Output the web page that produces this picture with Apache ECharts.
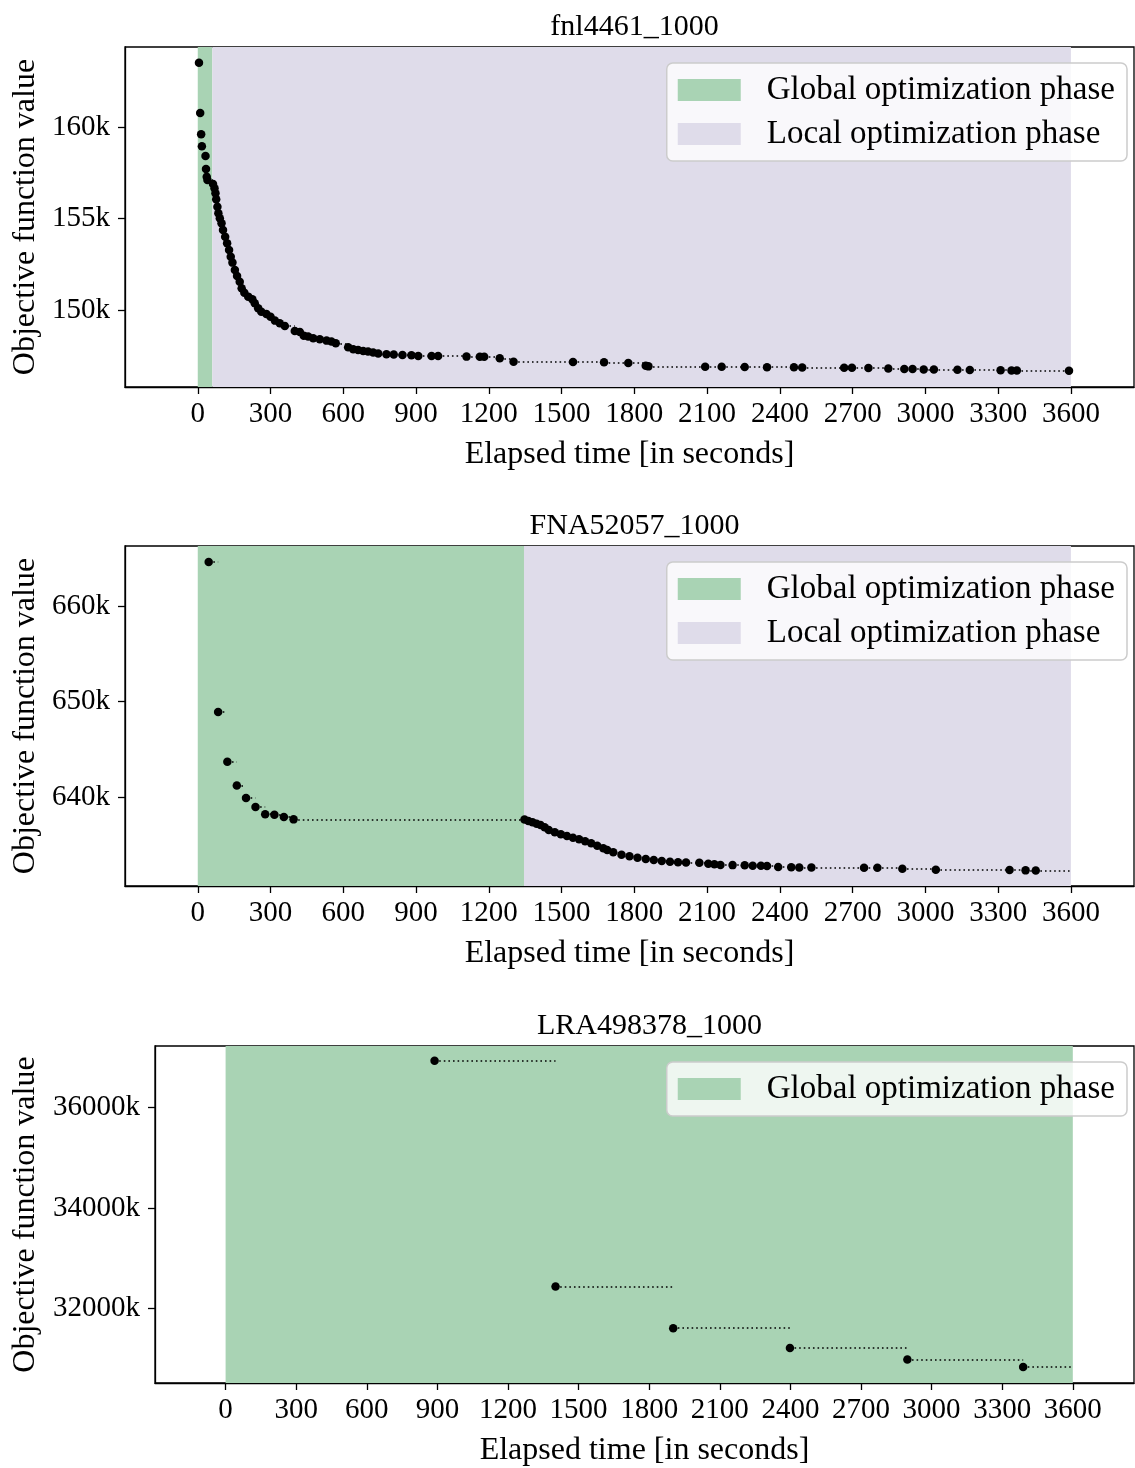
<!DOCTYPE html>
<html>
<head>
<meta charset="utf-8">
<script src="https://cdn.jsdelivr.net/npm/echarts@6/dist/echarts.min.js"></script>
<style>
  html, body { margin: 0; padding: 0; background: #fff; }
  #chart { width: 1135px; height: 1468px; }
</style>
</head>
<body>
<div id="chart"></div>
<script>
// ---- run: fnl4461_1000 ----
const fnlTime = [5, 10, 14, 17, 32, 34, 37, 40, 63, 69, 73, 76, 81, 85, 91, 98, 104, 113, 121, 129, 136, 143, 153, 162, 173, 181, 192, 208, 225, 235, 249, 262, 283, 300, 318, 338, 359, 400, 421, 437, 455, 476, 503, 531, 551, 569, 620, 641, 661, 682, 702, 723, 744, 778, 808, 844, 881, 909, 964, 991, 1108, 1163, 1181, 1245, 1302, 1547, 1675, 1775, 1847, 1858, 2092, 2160, 2255, 2347, 2458, 2492, 2665, 2697, 2765, 2847, 2913, 2947, 2993, 3035, 3132, 3183, 3310, 3355, 3377, 3592];
const fnlValue = [163515, 160765, 159600, 158944, 158416, 157705, 157287, 157105, 156886, 156650, 156376, 156048, 155648, 155284, 155010, 154737, 154373, 154009, 153645, 153280, 152916, 152589, 152188, 151860, 151550, 151186, 150949, 150731, 150585, 150367, 150094, 149911, 149784, 149638, 149420, 149274, 149128, 148855, 148801, 148600, 148546, 148455, 148400, 148327, 148273, 148182, 147963, 147854, 147818, 147763, 147727, 147672, 147617, 147581, 147575, 147544, 147526, 147490, 147488, 147486, 147453, 147450, 147448, 147362, 147170, 147160, 147140, 147100, 146960, 146920, 146900, 146895, 146880, 146875, 146870, 146860, 146850, 146840, 146830, 146810, 146780, 146770, 146750, 146745, 146740, 146720, 146710, 146700, 146690, 146685];
const fnlGlobalEnd = 60;

// ---- run: FNA52057_1000 ----
const fnaTime = [45, 84, 122, 161, 199, 238, 278, 316, 355, 395, 1347, 1363, 1380, 1397, 1413, 1430, 1447, 1472, 1497, 1522, 1547, 1572, 1597, 1622, 1647, 1672, 1688, 1713, 1747, 1780, 1813, 1847, 1880, 1913, 1947, 1980, 2013, 2068, 2105, 2130, 2155, 2205, 2255, 2288, 2322, 2347, 2393, 2447, 2480, 2530, 2747, 2802, 2905, 3043, 3347, 3413, 3455];
const fnaValue = [664600, 648900, 643700, 641200, 639900, 638950, 638200, 638150, 637900, 637660, 637640, 637489, 637349, 637210, 637068, 636824, 636545, 636300, 636091, 635917, 635742, 635568, 635358, 635149, 634905, 634626, 634451, 634207, 633963, 633789, 633649, 633509, 633404, 633300, 633230, 633160, 633150, 633125, 633020, 632950, 632880, 632870, 632845, 632810, 632800, 632775, 632670, 632640, 632630, 632620, 632600, 632590, 632490, 632390, 632355, 632320, 632315];
const fnaGlobalEnd = 1345;

// ---- run: LRA498378_1000 ----
const lraTime = [888, 1402, 1902, 2398, 2897, 3389];
const lraValue = [36926000, 32440000, 31613000, 31219000, 30990000, 30838000];
const lraGlobalEnd = 3600;

const timeLimit = 3600;
const timeTicks = [0, 300, 600, 900, 1200, 1500, 1800, 2100, 2400, 2700, 3000, 3300, 3600];
const fnlTicks = [150000, 155000, 160000];
const fnaTicks = [640000, 650000, 660000];
const lraTicks = [32000000, 34000000, 36000000];

const titles = ['fnl4461_1000', 'FNA52057_1000', 'LRA498378_1000'];
const GLOBAL = 'Global optimization phase';
const LOCAL = 'Local optimization phase';

const FONT = '"Liberation Serif", "DejaVu Serif", serif';
const GREEN = '#a9d3b4';
const LAVENDER = '#dfdcea';

const panels = [
  { grid: { left: 125, top: 47, width: 1009, height: 340 }, t: fnlTime, v: fnlValue, gEnd: fnlGlobalEnd,
    yMin: 145793, yMax: 164371, yTicks: fnlTicks, local: true, yNameGap: 83 },
  { grid: { left: 125, top: 546, width: 1009, height: 340 }, t: fnaTime, v: fnaValue, gEnd: fnaGlobalEnd,
    yMin: 630684, yMax: 666283, yTicks: fnaTicks, local: true, yNameGap: 83 },
  { grid: { left: 155, top: 1046, width: 979, height: 340 }, t: lraTime, v: lraValue, gEnd: lraGlobalEnd,
    yMin: 30522300, yMax: 37221600, yTicks: lraTicks, local: false, yNameGap: 113 }
];

const option = {
  backgroundColor: '#fff',
  animation: false,
  textStyle: { fontFamily: FONT },
  title: [], grid: [], xAxis: [], yAxis: [], series: [], legend: []
};

panels.forEach((p, i) => {
  option.grid.push(Object.assign({ show: true, borderColor: '#000', borderWidth: 1.3, backgroundColor: 'transparent' }, p.grid));
  option.title.push({
    text: titles[i],
    left: p.grid.left + p.grid.width / 2,
    textAlign: 'center',
    top: p.grid.top - 40,
    textStyle: { fontFamily: FONT, fontSize: 30, fontWeight: 'normal', color: '#000' }
  });
  option.xAxis.push({
    type: 'value', gridIndex: i, min: -300, max: 3860,
    name: 'Elapsed time [in seconds]', nameLocation: 'middle', nameGap: 52,
    nameTextStyle: { fontFamily: FONT, fontSize: 32, color: '#000' },
    axisLine: { show: true, onZero: false, lineStyle: { color: '#000', width: 1.3 } },
    axisTick: { show: true, customValues: timeTicks, length: 7, lineStyle: { color: '#000', width: 1.3 } },
    axisLabel: { customValues: timeTicks, fontFamily: FONT, fontSize: 29, color: '#000', margin: 13,
      formatter: v => String(v) },
    splitLine: { show: false }
  });
  option.yAxis.push({
    type: 'value', gridIndex: i, min: p.yMin, max: p.yMax,
    name: 'Objective function value', nameLocation: 'middle', nameGap: p.yNameGap, nameRotate: 90,
    nameTextStyle: { fontFamily: FONT, fontSize: 32, color: '#000' },
    axisLine: { show: true, onZero: false, lineStyle: { color: '#000', width: 1.3 } },
    axisTick: { show: true, customValues: p.yTicks, length: 7, lineStyle: { color: '#000', width: 1.3 } },
    axisLabel: { customValues: p.yTicks, fontFamily: FONT, fontSize: 29, color: '#000', margin: 15,
      formatter: v => (v / 1000) + 'k' },
    splitLine: { show: false }
  });

  // phase bands
  option.series.push({
    name: GLOBAL, type: 'line', xAxisIndex: i, yAxisIndex: i, data: [], z: 1,
    itemStyle: { color: GREEN }, lineStyle: { color: GREEN },
    markArea: { silent: true, itemStyle: { color: GREEN, opacity: 1 },
      data: [[{ xAxis: 0 }, { xAxis: p.gEnd }]] }
  });
  if (p.local) {
    option.series.push({
      name: LOCAL, type: 'line', xAxisIndex: i, yAxisIndex: i, data: [], z: 1,
      itemStyle: { color: LAVENDER }, lineStyle: { color: LAVENDER },
      markArea: { silent: true, itemStyle: { color: LAVENDER, opacity: 1 },
        data: [[{ xAxis: p.gEnd }, { xAxis: timeLimit }]] }
    });
  }

  // dotted hold segments: each value held until the next improvement
  const segs = p.t.map((t, k) => ({
    coords: [[t, p.v[k]], [k + 1 < p.t.length ? p.t[k + 1] : timeLimit, p.v[k]]]
  }));
  option.series.push({
    type: 'lines', coordinateSystem: 'cartesian2d', xAxisIndex: i, yAxisIndex: i,
    data: segs, silent: true, z: 3,
    lineStyle: { color: '#000', width: 1.6, type: [1.6, 3], opacity: 1, curveness: 0 }
  });

  // improvement points
  option.series.push({
    type: 'scatter', xAxisIndex: i, yAxisIndex: i, z: 4,
    data: p.t.map((t, k) => [t, p.v[k]]),
    symbol: 'circle', symbolSize: 8.5, itemStyle: { color: '#000', opacity: 1 }, silent: true
  });

  option.legend.push({
    data: p.local ? [GLOBAL, LOCAL] : [GLOBAL],
    orient: 'vertical', right: 8, top: p.grid.top + 16,
    icon: 'rect', itemWidth: 63, itemHeight: 22, itemGap: 6,
    padding: [8, 12, 8, 11],
    backgroundColor: 'rgba(255,255,255,0.8)', borderColor: '#cccccc', borderWidth: 1.5, borderRadius: 6,
    selectedMode: false,
    textStyle: { fontFamily: FONT, fontSize: 33, color: '#000', lineHeight: 38, padding: [0, 0, 0, 21] }
  });
});

const chart = echarts.init(document.getElementById('chart'), null, { renderer: 'canvas' });
chart.setOption(option);
</script>
</body>
</html>
